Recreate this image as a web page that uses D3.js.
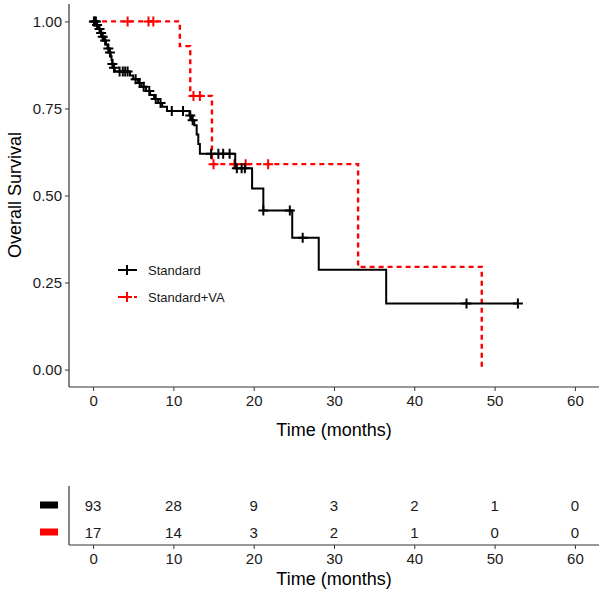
<!DOCTYPE html>
<html><head><meta charset="utf-8">
<script src="https://cdn.jsdelivr.net/npm/d3@7"></script>
<style>body{margin:0;background:#fff}svg{display:block;font-family:"Liberation Sans",Arial,sans-serif}</style>
</head><body>
<svg id="c" width="602" height="593"></svg>
<script>
// ---- data ----
const groups = ["Standard", "Standard+VA"];
const groupColors = ["#000000", "#ff0000"];
// Standard: step times (months) and survival after each step
const stdTimes = [0, 0.4, 0.6, 0.9, 1.1, 1.3, 1.6, 1.8, 2.0, 2.2, 2.3, 2.4, 2.5, 2.7, 4.6, 5.0, 5.6, 6.0, 6.6, 7.1, 7.6, 8.1, 8.6, 9.2, 12.0, 12.3, 12.6, 12.9, 13.1, 13.3, 17.7, 19.8, 21.2, 24.8, 28.1, 36.5];
const stdSurv  = [1, 0.99, 0.978, 0.967, 0.956, 0.945, 0.934, 0.922, 0.911, 0.90, 0.889, 0.878, 0.867, 0.856, 0.845, 0.834, 0.823, 0.812, 0.80, 0.789, 0.777, 0.766, 0.755, 0.743, 0.73, 0.716, 0.702, 0.675, 0.648, 0.62, 0.578, 0.52, 0.457, 0.379, 0.287, 0.19];
const stdEnd = 52.9;
const stdCensor = [0.1, 0.2, 0.35, 0.5, 0.8, 1.0, 1.2, 1.5, 1.9, 2.1, 2.4, 2.6, 3.3, 3.7, 4.0, 4.3, 5.3, 5.8, 6.3, 7.0, 7.8, 8.4, 9.8, 11.2, 12.1, 12.4, 14.7, 15.6, 16.2, 17.0, 17.9, 18.5, 18.9, 21.2, 24.5, 26.1, 46.5, 52.9];
// Standard+VA
const vaTimes = [0, 10.8, 12.1, 14.8, 33.0, 48.4];
const vaSurv  = [1, 0.929, 0.786, 0.59, 0.295, 0];
const vaEnd = 48.4;
const vaCensor = [4.3, 6.9, 7.5, 12.5, 13.3, 15.0, 17.6, 19.0, 21.8];
// axes
const xTicks = [0, 10, 20, 30, 40, 50, 60];
const yTicks = [0, 0.25, 0.5, 0.75, 1.0];
// numbers at risk
const riskStd = [93, 28, 9, 3, 2, 1, 0];
const riskVA  = [17, 14, 3, 2, 1, 0, 0];

// ---- drawing ----
const svg = d3.select("#c");
const x = d3.scaleLinear().domain([-3, 63]).range([69, 599]);
const y = d3.scaleLinear().domain([-0.05, 1.05]).range([387, 4]);
const axisCol = "#333333";
const tickFont = 15, titleFont = 18;

function stepPath(times, surv, end) {
  const pts = [];
  for (let i = 0; i < times.length; i++) {
    if (i > 0) pts.push([times[i], surv[i - 1]]);
    pts.push([times[i], surv[i]]);
  }
  pts.push([end, surv[surv.length - 1]]);
  return d3.line().x(d => x(d[0])).y(d => y(d[1]))(pts);
}
function survAt(times, surv, t) {
  let s = surv[0];
  for (let i = 0; i < times.length; i++) if (times[i] <= t) s = surv[i];
  return s;
}

// y axis
const yAxis = d3.axisLeft(y).tickValues(yTicks).tickFormat(d3.format(".2f")).tickSize(4).tickPadding(3);
const gy = svg.append("g").attr("transform", "translate(69,0)").call(yAxis);
gy.select(".domain").attr("stroke", axisCol).attr("stroke-width", 1.2).attr("d", "M0,4V387");
gy.selectAll(".tick line").attr("stroke", axisCol);
gy.selectAll("text").attr("font-size", tickFont).attr("fill", "#1a1a1a").attr("font-family", "Liberation Sans, Arial");

// x axis
const xAxis = d3.axisBottom(x).tickValues(xTicks).tickSize(4).tickPadding(4);
const gx = svg.append("g").attr("transform", "translate(0,387)").call(xAxis);
gx.select(".domain").attr("stroke", axisCol).attr("stroke-width", 1.2).attr("d", "M69,0H599");
gx.selectAll(".tick line").attr("stroke", axisCol);
gx.selectAll("text").attr("font-size", tickFont).attr("fill", "#1a1a1a").attr("font-family", "Liberation Sans, Arial");

svg.append("text").attr("x", 334).attr("y", 436).attr("text-anchor", "middle")
  .attr("font-size", titleFont).attr("fill", "#000").text("Time (months)");
svg.append("text").attr("transform", "translate(21,195) rotate(-90)").attr("text-anchor", "middle")
  .attr("font-size", titleFont).attr("fill", "#000").text("Overall Survival");

// curves
const series = [
  { times: stdTimes, surv: stdSurv, end: stdEnd, cens: stdCensor, color: groupColors[0], dash: null },
  { times: vaTimes, surv: vaSurv, end: vaEnd, cens: vaCensor, color: groupColors[1], dash: "5,4" }
];
series.slice().reverse().forEach(s => {
  svg.append("path").attr("d", stepPath(s.times, s.surv, s.end))
    .attr("fill", "none").attr("stroke", s.color).attr("stroke-width", s.dash ? 2.4 : 2)
    .attr("stroke-dasharray", s.dash);
  const g = svg.append("g");
  s.cens.forEach(t => {
    const cx = x(t), cy = y(survAt(s.times, s.surv, t));
    g.append("path").attr("d", `M${cx - 5},${cy}H${cx + 5}M${cx},${cy - 5}V${cy + 5}`)
      .attr("stroke", s.color).attr("stroke-width", 2).attr("fill", "none");
  });
});

// legend
const legY = [270, 297];
groups.forEach((name, i) => {
  const ly = legY[i];
  const g = svg.append("g");
  g.append("path").attr("d", `M118,${ly}H137`).attr("stroke", groupColors[i]).attr("stroke-width", 2)
    .attr("stroke-dasharray", i === 1 ? "5,3" : null);
  g.append("path").attr("d", `M122,${ly}H132M127,${ly - 5}V${ly + 5}`).attr("stroke", groupColors[i]).attr("stroke-width", 2);
  g.append("text").attr("x", 148).attr("y", ly + 4.5).attr("font-size", 13).attr("fill", "#1a1a1a").text(name);
});

// risk table
const rowY = [505, 532];
const risks = [riskStd, riskVA];
svg.append("line").attr("x1", 69).attr("x2", 69).attr("y1", 486).attr("y2", 545).attr("stroke", axisCol).attr("stroke-width", 1.2);
const xAxis2 = d3.axisBottom(x).tickValues(xTicks).tickSize(4).tickPadding(4);
const gx2 = svg.append("g").attr("transform", "translate(0,545)").call(xAxis2);
gx2.select(".domain").attr("stroke", axisCol).attr("stroke-width", 1.2).attr("d", "M69,0H599");
gx2.selectAll(".tick line").attr("stroke", axisCol);
gx2.selectAll("text").attr("font-size", tickFont).attr("fill", "#1a1a1a").attr("font-family", "Liberation Sans, Arial");
svg.append("text").attr("x", 334).attr("y", 585).attr("text-anchor", "middle")
  .attr("font-size", titleFont).attr("fill", "#000").text("Time (months)");
risks.forEach((r, i) => {
  svg.append("rect").attr("x", 40).attr("y", rowY[i] - 3.5).attr("width", 18).attr("height", 7).attr("fill", groupColors[i]);
  r.forEach((v, j) => {
    svg.append("text").attr("x", x(xTicks[j])).attr("y", rowY[i] + 5.5).attr("text-anchor", "middle")
      .attr("font-size", tickFont).attr("fill", "#1a1a1a").text(v);
  });
});
</script>
</body></html>
